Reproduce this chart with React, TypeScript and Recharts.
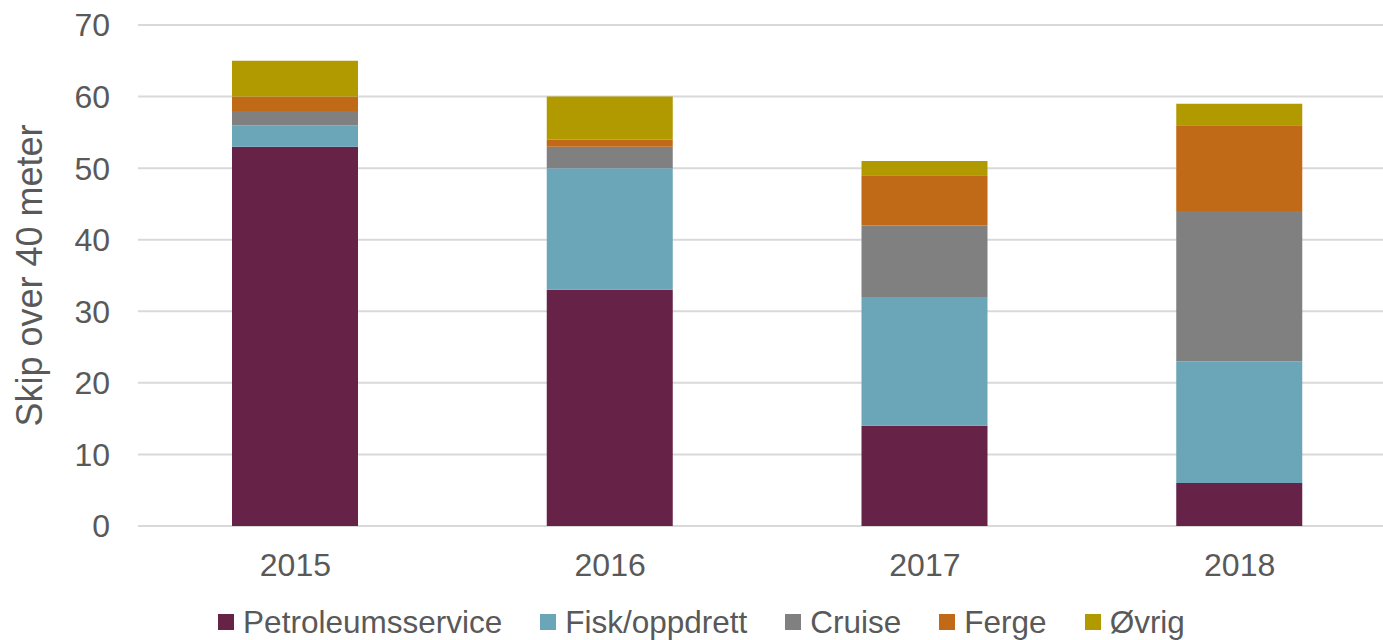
import { BarChart, Bar, XAxis, YAxis, CartesianGrid, Legend } from "recharts";

const years = ["2015", "2016", "2017", "2018"];
const petroleumsservice = [53, 33, 14, 6];
const fiskOppdrett = [3, 17, 18, 17];
const cruise = [2, 3, 10, 21];
const ferge = [2, 1, 7, 12];
const ovrig = [5, 6, 2, 3];
const yTicks = [0, 10, 20, 30, 40, 50, 60, 70];

const series = [
  { key: "petro", name: "Petroleumsservice", values: petroleumsservice, color: "#662247" },
  { key: "fisk", name: "Fisk/oppdrett", values: fiskOppdrett, color: "#6ba5b8" },
  { key: "cruise", name: "Cruise", values: cruise, color: "#808080" },
  { key: "ferge", name: "Ferge", values: ferge, color: "#c06916" },
  { key: "ovrig", name: "Øvrig", values: ovrig, color: "#b09a00" },
];

const data = years.map((year, i) => {
  const row: Record<string, string | number> = { year };
  series.forEach((s) => (row[s.key] = s.values[i]));
  return row;
});

const textColor = "#595959";
const font = "'Liberation Sans', Arial, sans-serif";

function LegendContent() {
  return (
    <div
      style={{
        display: "flex",
        justifyContent: "center",
        marginTop: 10,
        marginLeft: 6,
        lineHeight: "36px",
        fontFamily: font,
        fontSize: 31.5,
        color: textColor,
      }}
    >
      {series.map((s, i) => (
        <div key={s.key} style={{ display: "flex", alignItems: "center", marginRight: i < series.length - 1 ? 38 : 0 }}>
          <span style={{ width: 16, height: 16, background: s.color, marginRight: 9, display: "inline-block" }} />
          <span>{s.name}</span>
        </div>
      ))}
    </div>
  );
}

export default function App() {
  return (
    <div style={{ position: "absolute", top: 0, left: 0, width: 1383, height: 640, overflow: "hidden", background: "#fff" }}>
      <BarChart
        width={1400}
        height={640}
        data={data}
        barSize={126}
        margin={{ top: 25, right: 3, left: 0, bottom: 0 }}
        style={{ fontFamily: font }}
      >
        <CartesianGrid vertical={false} stroke="#d9d9d9" strokeWidth={2} />
        <XAxis
          dataKey="year"
          axisLine={false}
          tickLine={false}
          tickSize={0}
          tickMargin={27}
          height={68}
          tick={{ fill: textColor, fontSize: 32 }}
        />
        <YAxis
          domain={[0, 70]}
          ticks={yTicks}
          axisLine={false}
          tickLine={false}
          tickSize={0}
          tickMargin={28}
          width={138}
          tick={{ fill: textColor, fontSize: 32 }}
          label={{
            value: "Skip over 40 meter",
            angle: -90,
            position: "insideLeft",
            dx: 24,
            dy: 0,
            style: { fill: textColor, fontSize: 36, textAnchor: "middle" },
          }}
        />
        <Legend content={<LegendContent />} verticalAlign="bottom" height={46} />
        {series.map((s) => (
          <Bar key={s.key} dataKey={s.key} name={s.name} stackId="a" fill={s.color} isAnimationActive={false} />
        ))}
      </BarChart>
    </div>
  );
}
